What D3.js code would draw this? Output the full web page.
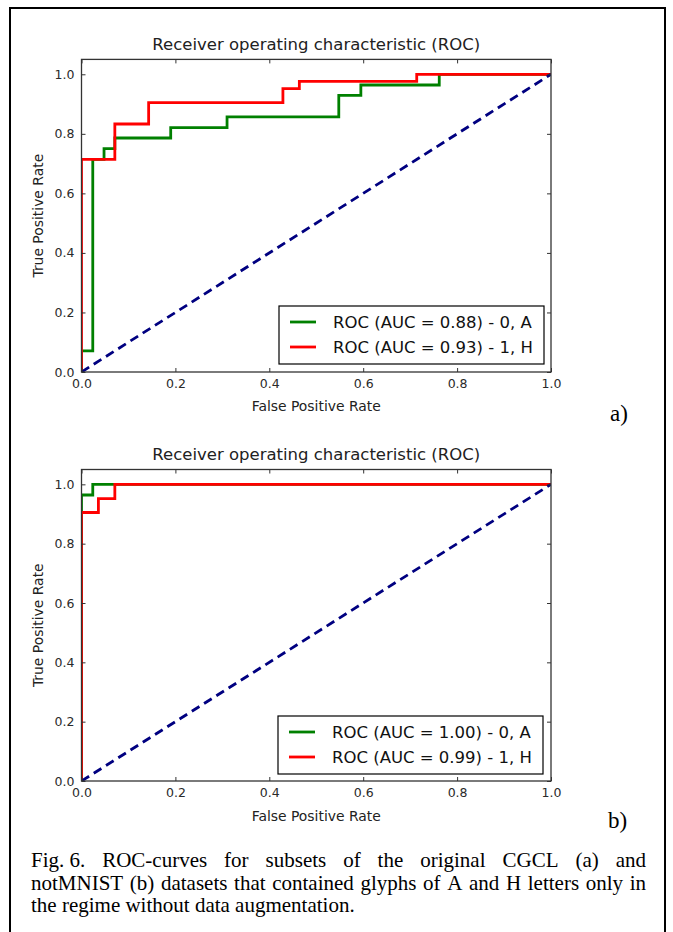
<!DOCTYPE html>
<html>
<head>
<meta charset="utf-8">
<script src="https://cdn.jsdelivr.net/npm/d3@7"></script>
<style>
  html, body { margin: 0; padding: 0; background: #fff; }
  svg { display: block; }
</style>
</head>
<body>
<svg id="fig" width="673" height="932"></svg>
<script>
// ---------------- data ----------------
const xTicks = [0.0, 0.2, 0.4, 0.6, 0.8, 1.0];
const yTicks = [0.0, 0.2, 0.4, 0.6, 0.8, 1.0];
const chartTitle = "Receiver operating characteristic (ROC)";
const xLabel = "False Positive Rate";
const yLabel = "True Positive Rate";

// panel a) CGCL
const aGreenFpr = [0, 0, 0.024, 0.024, 0.048, 0.048, 0.071, 0.071, 0.19, 0.19, 0.31, 0.31, 0.548, 0.548, 0.595, 0.595, 0.762, 0.762, 1.0];
const aGreenTpr = [0, 0.071, 0.071, 0.714, 0.714, 0.75, 0.75, 0.786, 0.786, 0.821, 0.821, 0.857, 0.857, 0.929, 0.929, 0.964, 0.964, 1.0, 1.0];
const aRedFpr = [0, 0, 0.071, 0.071, 0.143, 0.143, 0.429, 0.429, 0.464, 0.464, 0.714, 0.714, 1.0];
const aRedTpr = [0, 0.714, 0.714, 0.833, 0.833, 0.905, 0.905, 0.952, 0.952, 0.976, 0.976, 1.0, 1.0];
const aLegend = ["ROC (AUC = 0.88) - 0, A", "ROC (AUC = 0.93) - 1, H"];

// panel b) notMNIST
const bGreenFpr = [0, 0, 0.024, 0.024, 1.0];
const bGreenTpr = [0, 0.964, 0.964, 1.0, 1.0];
const bRedFpr = [0, 0, 0.036, 0.036, 0.071, 0.071, 1.0];
const bRedTpr = [0, 0.905, 0.905, 0.952, 0.952, 1.0, 1.0];
const bLegend = ["ROC (AUC = 1.00) - 0, A", "ROC (AUC = 0.99) - 1, H"];

const chanceFpr = [0, 1];
const chanceTpr = [0, 1];

const captionLines = [
  ["Fig.\u00a06.", "ROC-curves", "for", "subsets", "of", "the", "original", "CGCL", "(a)", "and"],
  ["notMNIST", "(b)", "datasets", "that", "contained", "glyphs", "of", "A", "and", "H", "letters", "only", "in"],
  ["the regime without data augmentation."]
];

// ---------------- drawing ----------------
const svg = d3.select("#fig");
const SANS = "'DejaVu Sans', sans-serif";
const SERIF = "'Liberation Serif', 'Times New Roman', serif";

// outer frame
svg.append("rect")
  .attr("x", 10).attr("y", 8).attr("width", 655).attr("height", 940)
  .attr("fill", "none").attr("stroke", "#000").attr("stroke-width", 2);

function drawPanel(opt) {
  const g = svg.append("g");
  const x = d3.scaleLinear().domain([0, 1]).range([opt.left, opt.right]);
  const y = d3.scaleLinear().domain([0, 1.05]).range([opt.bottom, opt.top]);
  const clipId = "clip" + opt.id;

  g.append("clipPath").attr("id", clipId)
    .append("rect")
    .attr("x", opt.left).attr("y", opt.top)
    .attr("width", opt.right - opt.left).attr("height", opt.bottom - opt.top);

  const line = d3.line().x(d => x(d[0])).y(d => y(d[1]));
  const zipPts = (a, b) => a.map((v, i) => [v, b[i]]);

  const curves = g.append("g").attr("clip-path", `url(#${clipId})`);
  opt.series.forEach(s => {
    curves.append("path")
      .datum(zipPts(s.fpr, s.tpr))
      .attr("d", line)
      .attr("fill", "none")
      .attr("stroke", s.color)
      .attr("stroke-width", 2.8)
      .attr("stroke-linejoin", "miter")
      .attr("stroke-dasharray", s.dash || null);
  });

  // axes (inward ticks on all four sides)
  const tickFmt = d3.format(".1f");
  const axB = g.append("g").attr("transform", `translate(0,${opt.bottom})`)
    .call(d3.axisBottom(x).tickValues(xTicks).tickFormat(tickFmt).tickSizeInner(-4).tickSizeOuter(0).tickPadding(7));
  const axT = g.append("g").attr("transform", `translate(0,${opt.top})`)
    .call(d3.axisTop(x).tickValues(xTicks).tickFormat("").tickSizeInner(-4).tickSizeOuter(0));
  const axL = g.append("g").attr("transform", `translate(${opt.left},0)`)
    .call(d3.axisLeft(y).tickValues(yTicks).tickFormat(tickFmt).tickSizeInner(-4).tickSizeOuter(0).tickPadding(7));
  const axR = g.append("g").attr("transform", `translate(${opt.right},0)`)
    .call(d3.axisRight(y).tickValues(yTicks).tickFormat("").tickSizeInner(-4).tickSizeOuter(0));
  [axB, axT, axL, axR].forEach(a => {
    a.select(".domain").remove();
    a.selectAll(".tick line").attr("stroke", "#333").attr("stroke-width", 1);
    a.selectAll("text").attr("font-family", SANS).attr("font-size", 12.5).attr("fill", "#2a2a2a");
  });

  // frame
  g.append("rect")
    .attr("x", opt.left).attr("y", opt.top)
    .attr("width", opt.right - opt.left).attr("height", opt.bottom - opt.top)
    .attr("fill", "none").attr("stroke", "#333").attr("stroke-width", 1.3);

  // title
  g.append("text")
    .attr("x", (opt.left + opt.right) / 2).attr("y", opt.titleY)
    .attr("text-anchor", "middle")
    .attr("font-family", SANS).attr("font-size", 16.5).attr("fill", "#222")
    .text(chartTitle);

  // axis labels
  g.append("text")
    .attr("x", (opt.left + opt.right) / 2).attr("y", opt.xLabelY)
    .attr("text-anchor", "middle")
    .attr("font-family", SANS).attr("font-size", 13.9).attr("fill", "#222")
    .text(xLabel);
  g.append("text")
    .attr("transform", `translate(43,${(opt.top + opt.bottom) / 2}) rotate(-90)`)
    .attr("text-anchor", "middle")
    .attr("font-family", SANS).attr("font-size", 13.9).attr("fill", "#222")
    .text(yLabel);

  // legend
  const lg = g.append("g");
  lg.append("rect")
    .attr("x", opt.legend.x).attr("y", opt.legend.y)
    .attr("width", opt.legend.w).attr("height", opt.legend.h)
    .attr("fill", "#fff").attr("stroke", "#000").attr("stroke-width", 1.2);
  opt.legendLabels.forEach((lab, i) => {
    const cy = opt.legend.y + 16 + i * 25;
    lg.append("line")
      .attr("x1", opt.legend.x + 11).attr("x2", opt.legend.x + 37)
      .attr("y1", cy).attr("y2", cy)
      .attr("stroke", opt.series[i].color).attr("stroke-width", 2.8);
    lg.append("text")
      .attr("x", opt.legend.x + 54).attr("y", cy).attr("dy", "0.36em")
      .attr("font-family", SANS).attr("font-size", 16.5).attr("fill", "#111")
      .text(lab);
  });

  // panel letter
  g.append("text")
    .attr("x", opt.letterX).attr("y", opt.letterY)
    .attr("font-family", SERIF).attr("font-size", 23).attr("fill", "#000")
    .text(opt.letter);
}

drawPanel({
  id: "a", left: 81.5, right: 551, top: 59.4, bottom: 372,
  titleY: 50, xLabelY: 410.5,
  series: [
    { fpr: aGreenFpr, tpr: aGreenTpr, color: "#008000" },
    { fpr: aRedFpr, tpr: aRedTpr, color: "#ff0000" },
    { fpr: chanceFpr, tpr: chanceTpr, color: "#000080", dash: "9,5.5" }
  ],
  legendLabels: aLegend,
  legend: { x: 279, y: 306, w: 265, h: 58 },
  letter: "a)", letterX: 610, letterY: 421
});

drawPanel({
  id: "b", left: 81.5, right: 551, top: 469.5, bottom: 781,
  titleY: 460, xLabelY: 820.5,
  series: [
    { fpr: bGreenFpr, tpr: bGreenTpr, color: "#008000" },
    { fpr: bRedFpr, tpr: bRedTpr, color: "#ff0000" },
    { fpr: chanceFpr, tpr: chanceTpr, color: "#000080", dash: "9,5.5" }
  ],
  legendLabels: bLegend,
  legend: { x: 278, y: 716, w: 265, h: 58 },
  letter: "b)", letterX: 608, letterY: 828
});

// caption (justified, first two lines)
const capLeft = 31, capRight = 646, capY0 = 867, capLH = 22.5;
captionLines.forEach((words, li) => {
  const gl = svg.append("g");
  const nodes = words.map(w => gl.append("text")
    .attr("y", capY0 + li * capLH)
    .attr("font-family", SERIF).attr("font-size", 21).attr("fill", "#000")
    .text(w));
  const widths = nodes.map(n => n.node().getComputedTextLength());
  const total = d3.sum(widths);
  const justify = li < captionLines.length - 1 && words.length > 1;
  const gap = justify ? (capRight - capLeft - total) / (words.length - 1) : 5;
  let cx = capLeft;
  nodes.forEach((n, i) => { n.attr("x", cx); cx += widths[i] + gap; });
});
</script>
</body>
</html>
